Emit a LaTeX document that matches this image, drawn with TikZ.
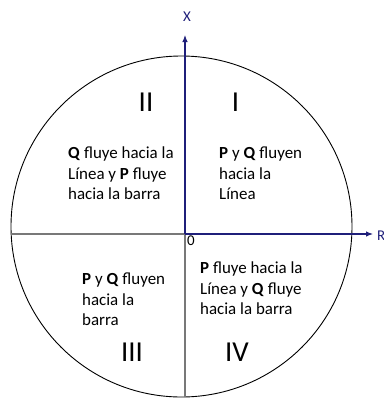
\documentclass[tikz,border=0pt]{standalone}
\usepackage{fontspec}
\setmainfont{Carlito}
\usepackage{tikz}
\usetikzlibrary{arrows.meta}
\usepackage{xcolor}

\definecolor{ejeazul}{RGB}{31,31,122}
\definecolor{ejegris}{RGB}{120,120,120}

\tikzset{
    eje/.style={ejeazul, line width=1.1bp, -{Latex[length=7bp,width=5.5bp]}},
    cuadrante/.style={anchor=north west, inner sep=0pt, align=left,
        font=\fontsize{17}{20.5}\selectfont},
    numeral/.style={inner sep=0pt, font=\fontsize{29}{30}\selectfont},
}

\begin{document}
\begin{tikzpicture}[x=1bp, y=-1bp]
    \useasboundingbox (0,0) rectangle (384,399);

    % circulo y diametros
    \coordinate (C) at (181.5,226.5);
    \coordinate (O) at (185,234);
    \draw[line width=0.9bp] (C) circle (170.5);
    \coordinate (izq) at (11.2,234);
    \coordinate (abajo) at (185,397);
    \draw[ejegris, line width=1.1bp] (izq) -- (O) -- (abajo);

    % ejes
    \node[ejeazul, inner sep=0pt, font=\fontsize{15}{16}\selectfont] (X) at (187,17) {X};
    \node[ejeazul, inner sep=0pt, anchor=west, font=\fontsize{15}{16}\selectfont] (R) at (377,236) {R};
    \coordinate (xtip) at (185,35);
    \coordinate (rtip) at (373,234);
    \draw[eje] (O) -- (xtip);
    \draw[eje] (O) -- (rtip);
    \node[inner sep=0pt, font=\fontsize{15}{16}\selectfont] (cero) at (191,241) {0};

    % numeros romanos
    \node[numeral] (II) at (146,102.5) {II};
    \node[numeral] (I) at (235.5,102.5) {I};
    \node[numeral] (III) at (132,352) {III};
    \node[numeral] (IV) at (237,352) {IV};

    % textos de los cuadrantes
    \node[cuadrante] (textoII) at (68,147)
        {\textbf{Q} fluye hacia la\\L\'inea y \textbf{P} fluye\\hacia la barra};
    \node[cuadrante] (textoI) at (219,147)
        {\textbf{P} y \textbf{Q} fluyen\\hacia la\\L\'inea};
    \node[cuadrante] (textoIII) at (82,273)
        {\textbf{P} y \textbf{Q} fluyen\\hacia la\\barra};
    \node[cuadrante] (textoIV) at (200,262)
        {\textbf{P} fluye hacia la\\L\'inea y \textbf{Q} fluye\\hacia la barra};
\end{tikzpicture}
\end{document}
